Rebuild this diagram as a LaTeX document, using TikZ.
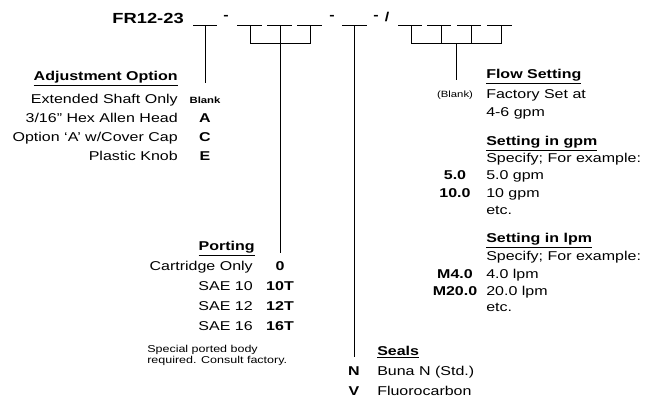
\documentclass[tikz,border=0pt]{standalone}
\usepackage{fontspec}
\setmainfont[FakeStretch=1.25]{Liberation Sans}
\usetikzlibrary{positioning,calc}
\tikzset{
  txt/.style={inner sep=0pt, font=\fontsize{9.6}{11}\selectfont},
  desc/.style={txt, anchor=mid east},
  info/.style={txt, anchor=mid west},
  code/.style={inner sep=0pt, anchor=mid, font=\fontsize{9.6}{11}\selectfont\bfseries},
  small/.style={inner sep=0pt, font=\fontsize{6.8}{8}\selectfont},
  head/.style={inner sep=0pt, font=\fontsize{9.6}{11}\selectfont\bfseries},
  wire/.style={line width=0.7pt},
}

\begin{document}
\begin{tikzpicture}[x=0.75pt, y=-0.75pt]
  \useasboundingbox (0,0) rectangle (646,405);

  % Model code line
  \node[inner sep=0pt, anchor=base east, font=\fontsize{11}{13}\selectfont\bfseries] (model) at (184,23) {FR12-23};
  \node[code] (d1) at (226,16) {-};
  \node[code] (d2) at (332,16) {-};
  \node[code] (d3) at (376,16) {-};
  \node[code] (sl) at (387,17.5) {/};

  % Blanks
  \foreach \a/\b in {193/217, 237/262, 267/292, 297/322, 342/367, 398/422, 427/451, 457/481, 487/512}
    \draw[wire] (\a,25) -- (\b,25);

  \coordinate (adjB) at (205,25);
  \coordinate (sealB) at (354,25);
  \coordinate (portBar) at (280,43);
  \coordinate (flowBar) at (456,43);
  \draw[wire] (250,25) -- (250,43) -- (310,43) -- (310,25);
  \draw[wire] (280,25) -- (portBar);
  \draw[wire] (411,25) -- (411,43) -- (501,43) -- (501,25);
  \foreach \x in {441,471} \draw[wire] (\x,25) -- (\x,43);

  % Adjustment Option
  \node[head, anchor=mid east] (adj) at (178,77) {\underline{Adjustment Option}};
  \node[desc] (adj1) at (178,100) {Extended Shaft Only};
  \node[desc] (adj2) at (178,119) {3/16" Hex Allen Head};
  \node[desc] (adj3) at (178,138) {Option `A' w/Cover Cap};
  \node[desc] (adj4) at (178,157) {Plastic Knob};
  \node[small, font=\fontsize{6.8}{8}\selectfont\bfseries] (adjBlank) at (205,100) {Blank};
  \node[code] (adjA) at (205,119) {A};
  \node[code] (adjC) at (205,138) {C};
  \node[code] (adjE) at (205,157) {E};
  \coordinate (adjEnd) at (205,83);
  \draw[wire] (adjB) -- (adjEnd);

  % Porting
  \node[head, anchor=mid east] (port) at (255,247) {\underline{Porting}};
  \node[desc] (port1) at (253,267) {Cartridge Only};
  \node[desc] (port2) at (253,287) {SAE 10};
  \node[desc] (port3) at (253,307) {SAE 12};
  \node[desc] (port4) at (253,327) {SAE 16};
  \node[code] (portA) at (280,267) {0};
  \node[code] (portB) at (280,287) {10T};
  \node[code] (portC) at (280,307) {12T};
  \node[code] (portD) at (280,327) {16T};
  \node[small, anchor=mid west, align=left, font=\fontsize{7.5}{8.6}\selectfont] (note) at (147,360)
    {Special ported body\\required. Consult factory.};
  \coordinate (portEnd) at (280,253);
  \draw[wire] (portBar) -- (portEnd);

  % Seals
  \node[head, anchor=mid west] (seal) at (377,352) {\underline{Seals}};
  \node[code] (sealN) at (354,372) {N};
  \node[code] (sealV) at (354,392) {V};
  \node[info] (seal1) at (377,372) {Buna N (Std.)};
  \node[info] (seal2) at (377,392) {Fluorocarbon};
  \coordinate (sealEnd) at (354,357);
  \draw[wire] (sealB) -- (sealEnd);

  % Flow Setting
  \node[head, anchor=mid west] (flow) at (486,75) {\underline{Flow Setting}};
  \node[small] (flowBlank) at (455,95) {(Blank)};
  \node[info] (flow1) at (486,95) {Factory Set at};
  \node[info] (flow2) at (486,113) {4-6 gpm};
  \coordinate (flowEnd) at (456,80);
  \draw[wire] (flowBar) -- (flowEnd);

  % Setting in gpm
  \node[head, anchor=mid west] (gpm) at (486,142) {\underline{Setting in gpm}};
  \node[info] (gpm1) at (486,159) {Specify; For example:};
  \node[code] (gpmA) at (455,176) {5.0};
  \node[info] (gpm2) at (486,176) {5.0 gpm};
  \node[code] (gpmB) at (455,194) {10.0};
  \node[info] (gpm3) at (486,194) {10 gpm};
  \node[info] (gpm4) at (486,211) {etc.};

  % Setting in lpm
  \node[head, anchor=mid west] (lpm) at (486,239) {\underline{Setting in lpm}};
  \node[info] (lpm1) at (486,257) {Specify; For example:};
  \node[code] (lpmA) at (455,275) {M4.0};
  \node[info] (lpm2) at (486,275) {4.0 lpm};
  \node[code] (lpmB) at (455,292) {M20.0};
  \node[info] (lpm3) at (486,292) {20.0 lpm};
  \node[info] (lpm4) at (486,308) {etc.};
\end{tikzpicture}
\end{document}
